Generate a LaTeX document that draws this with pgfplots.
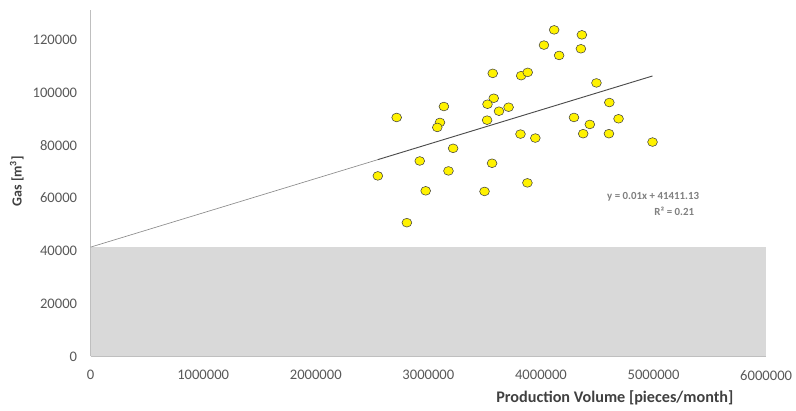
\documentclass[border=0pt]{standalone}
\usepackage{pgfplots}
\pgfplotsset{compat=1.18}
\usepackage{fontspec}
\setmainfont{Carlito}
\definecolor{tickgray}{HTML}{595959}
\definecolor{labgray}{HTML}{404040}
\definecolor{areagray}{HTML}{D9D9D9}
\definecolor{eqgray}{HTML}{808080}
\begin{document}
\begin{tikzpicture}
\useasboundingbox (-68.25pt,-40.5pt) rectangle (531.5pt,268.5pt);
\begin{axis}[
  name=ax,
  at={(0pt,0pt)}, anchor=south west,
  scale only axis,
  width=509pt, height=261pt,
  xmin=0, xmax=6000000,
  ymin=0, ymax=131321,
  xtick={0,1000000,2000000,3000000,4000000,5000000,6000000},
  ytick={0,20000,40000,60000,80000,100000,120000},
  scaled ticks=false,
  /pgf/number format/fixed,
  /pgf/number format/1000 sep={},
  /pgf/number format/assume math mode=true,
  tick style={draw=none},
  axis lines=left,
  axis line style={-},
  x axis line style={draw=none},
  y axis line style={draw=black!25, line width=0.6pt},
  ticklabel style={font=\fontsize{11}{12}\selectfont, text=tickgray},
  xticklabel style={yshift=-5pt},
  yticklabel style={xshift=-4.5pt},
  clip=false,
]
\addplot[fill=areagray, draw=none] coordinates {(0,0) (6000000,0) (6000000,41411.13) (0,41411.13)} -- cycle;
\addplot[draw=black!25, line width=0.4pt] coordinates {(6000000,0) (0,0)};
\addplot[draw=black!45, line width=0.5pt] coordinates {(0,41411.13) (2551300,74578)};
\addplot[draw=black!70, line width=0.7pt] coordinates {(2551300,74578) (4990900,106293)};
\addplot[only marks, mark=*, mark size=3.3pt,
  mark options={fill=yellow, draw=black!75, line width=0.4pt, xscale=1.12}]
  coordinates {
(4117300,123774) (4363600,121887) (4026700,118000) (4354800,116604)
(4161300,114076) (3571800,107283) (3824300,106415) (3882500,107660)
(4492900,103661) (3580600,97849) (3525200,95585) (3138100,94717)
(3712600,94453) (3627300,92944) (4607300,96227) (2718500,90566)
(4293200,90566) (4689100,90075) (3521700,89547) (3102900,88680)
(3079200,86793) (4434000,87925) (3818200,84264) (3950100,82755)
(4375100,84415) (4603800,84415) (4990900,81246) (3219900,78868)
(2923500,74076) (3565700,73208) (2551300,68415) (3178600,70302)
(3879700,65774) (2976200,62755) (3498800,62528) (2809100,50679)
  };
\node[anchor=east, font=\bfseries\fontsize{8.2}{9}\selectfont, text=eqgray] at (axis cs:5445700,60378) {y = 0.01x + 41411.13};
\node[anchor=east, font=\bfseries\fontsize{8.2}{9}\selectfont, text=eqgray] at (axis cs:5401700,55094) {R² = 0.21};
\end{axis}
\node[rotate=90, font=\bfseries\fontsize{10.5}{12}\selectfont, text=labgray] at ([xshift=-55.5pt,yshift=1.5pt]ax.west) {Gas [m\textsuperscript{3}]};
\node[font=\bfseries\fontsize{12.2}{14}\selectfont, text=labgray] at ([xshift=395pt,yshift=-31.5pt]ax.south west) {Production Volume [pieces/month]};
\end{tikzpicture}
\end{document}
